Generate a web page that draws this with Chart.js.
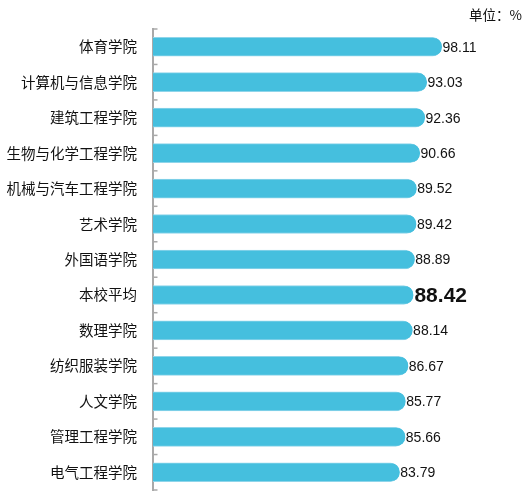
<!DOCTYPE html>
<html>
<head>
<meta charset="utf-8">
<script src="https://cdn.jsdelivr.net/npm/chart.js@4/dist/chart.umd.min.js"></script>
<style>
  html, body { margin: 0; padding: 0; background: #fff; overflow: hidden; }
  canvas { display: block; }
</style>
</head>
<body>
<canvas id="grafico" width="527" height="501"></canvas>
<script>
/* ---------------- Dados ---------------- */
const colleges = [
  "体育学院", "计算机与信息学院", "建筑工程学院", "生物与化学工程学院",
  "机械与汽车工程学院", "艺术学院", "外国语学院", "本校平均",
  "数理学院", "纺织服装学院", "人文学院", "管理工程学院", "电气工程学院",
];
const rates = [98.11, 93.03, 92.36, 90.66, 89.52, 89.42, 88.89, 88.42, 88.14, 86.67, 85.77, 85.66, 83.79];
const highlight = "本校平均";
const unitText = "单位：%";

const CORES = { barra: "#45BFDE", borda: "#8FD5EA", eixo: "#A9A9A9", texto: "#111" };
const FONTE_CJK = "'Noto Sans CJK SC', 'Noto Sans', sans-serif";

/* tiquinhos entre categorias, virados para dentro */
const ticksInternos = {
  id: "ticksInternos",
  afterDraw(chart) {
    const { ctx, chartArea } = chart;
    const y = chart.scales.y;
    const n = y.ticks.length;
    const pos = [chartArea.top];
    for (let i = 0; i < n - 1; i++) pos.push((y.getPixelForValue(i) + y.getPixelForValue(i + 1)) / 2);
    pos.push(chartArea.bottom);
    ctx.save();
    ctx.strokeStyle = CORES.eixo;
    ctx.lineWidth = 1.5;
    pos.forEach((p) => {
      ctx.beginPath();
      ctx.moveTo(chartArea.left, p);
      ctx.lineTo(chartArea.left + 4.5, p);
      ctx.stroke();
    });
    ctx.restore();
  },
};

/* unidade no canto superior direito */
const unidade = {
  id: "unidade",
  afterDraw(chart) {
    const { ctx } = chart;
    ctx.save();
    ctx.fillStyle = CORES.texto;
    ctx.font = `13.5px ${FONTE_CJK}`;
    ctx.textAlign = "right";
    ctx.textBaseline = "middle";
    ctx.fillText(unitText, 522, 15);
    ctx.restore();
  },
};

/* valores no fim das barras */
const rotulos = {
  id: "rotulos",
  afterDatasetsDraw(chart) {
    const { ctx } = chart;
    const meta = chart.getDatasetMeta(0);
    ctx.save();
    ctx.fillStyle = CORES.texto;
    ctx.textBaseline = "middle";
    ctx.textAlign = "left";
    meta.data.forEach((bar, i) => {
      const destaque = colleges[i] === highlight;
      ctx.font = destaque ? "bold 21px 'Liberation Sans', Arial, sans-serif" : "14px 'Liberation Sans', Arial, sans-serif";
      ctx.fillText(rates[i].toFixed(2), bar.x + (destaque ? 1 : 0.5), bar.y + 1);
    });
    ctx.restore();
  },
};

new Chart(document.getElementById("grafico"), {
  type: "bar",
  data: {
    labels: colleges,
    datasets: [{
      data: rates,
      backgroundColor: CORES.barra,
      borderColor: CORES.borda,
      borderWidth: { top: 1, bottom: 1, left: 0, right: 0 },
      borderSkipped: "start",
      borderRadius: { topRight: 10, bottomRight: 10, topLeft: 0, bottomLeft: 0 },
      barThickness: 19,
    }],
  },
  options: {
    indexAxis: "y",
    responsive: false,
    animation: false,
    layout: { padding: { left: 0, right: 50, top: 29, bottom: 11 } },
    plugins: {
      legend: { display: false },
      tooltip: { enabled: false },
    },
    scales: {
      x: { display: false, min: 0, max: 110 },
      y: {
        afterFit: (s) => { s.width = 153; s.paddingTop = 0; s.paddingBottom = 0; },
        border: { display: true, color: CORES.eixo, width: 2 },
        grid: { display: false, drawTicks: false },
        ticks: {
          color: CORES.texto,
          padding: 16,
          font: { family: FONTE_CJK, size: 14.5 },
        },
      },
    },
  },
  plugins: [ticksInternos, unidade, rotulos],
});
</script>
</body>
</html>
